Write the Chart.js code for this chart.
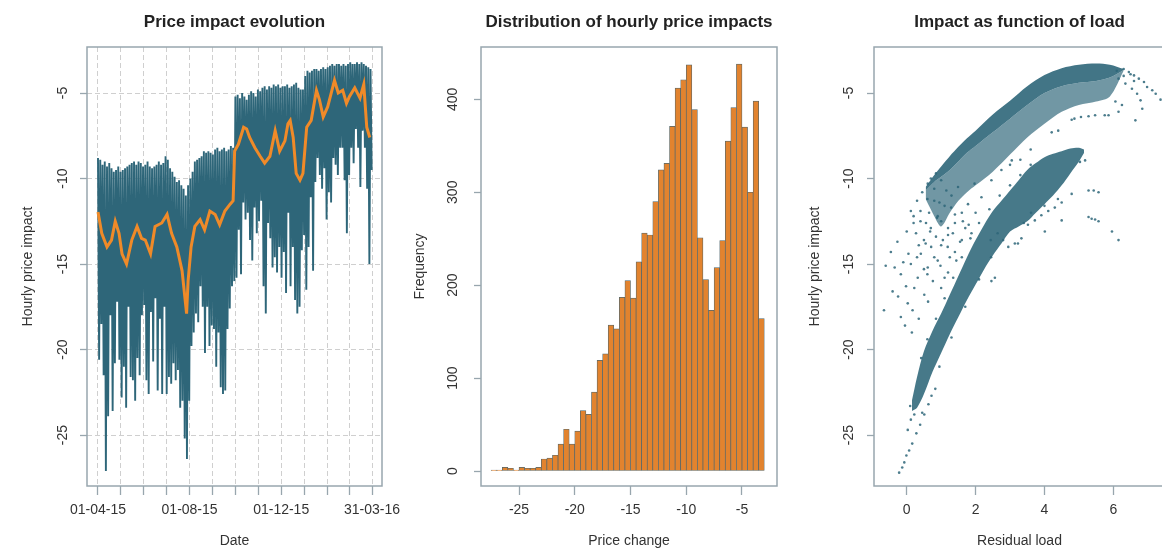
<!DOCTYPE html>
<html>
<head>
<meta charset="utf-8">
<script src="https://cdn.jsdelivr.net/npm/chart.js@4.4.1/dist/chart.umd.min.js"></script>
<style>
  html, body { margin: 0; padding: 0; background: #fff; width: 1162px; height: 552px; overflow: hidden; }
  canvas { position: absolute; top: 0; }
</style>
</head>
<body>
<canvas id="evo" width="420" height="552" style="left:0px"></canvas>
<canvas id="hist" width="420" height="552" style="left:390px"></canvas>
<canvas id="load" width="380" height="552" style="left:790px"></canvas>
<script>
// ---- panel 1: hourly impact, read as 3-day high/low envelope (day 0 = 01-04-15)
const binDays = 3
const evoHigh = [
  -8.8, -8.9, -9.2, -9.0, -9.3, -9.1, -9.4, -9.6, -9.5, -9.3,
  -9.6, -9.5, -9.4, -9.3, -9.2, -9.1, -9.0, -9.2, -9.0, -9.1,
  -9.3, -9.2, -9.0, -9.3, -9.4, -9.3, -9.2, -9.0, -9.2, -9.1,
  -8.7, -8.9, -9.4, -9.6, -9.9, -10.2, -10.1, -10.4, -10.6, -11.0,
  -10.4, -10.0, -9.6, -9.0, -8.9, -8.8, -8.7, -8.4, -8.5, -8.4,
  -8.5, -8.6, -8.3, -8.2, -8.4, -8.3, -8.2, -8.4, -8.3, -8.1,
  -8.2, -5.2, -5.1, -5.3, -5.0, -5.2, -5.4, -5.1, -4.9, -5.0,
  -5.2, -4.8, -4.9, -4.7, -4.6, -4.8, -4.6, -4.7, -4.5, -4.6,
  -4.5, -4.7, -4.6, -4.6, -4.5, -4.7, -4.6, -4.5, -4.4, -4.7,
  -4.8, -4.8, -4.0, -3.7, -3.8, -3.7, -3.6, -3.6, -3.7, -3.6,
  -3.5, -3.6, -3.5, -3.4, -3.3, -3.4, -3.3, -3.3, -3.4, -3.3,
  -3.4, -3.3, -3.2, -3.3, -3.3, -3.2, -3.3, -3.2, -3.3, -3.4,
  -3.5, -3.6
]
const evoLow = [
  -20.6, -18.5, -21.5, -27.1, -23.9, -18.0, -23.6, -20.8, -17.2, -20.6,
  -22.8, -21.0, -23.4, -17.5, -21.6, -21.8, -23.0, -20.5, -21.5, -18.0,
  -17.4, -21.8, -22.6, -17.8, -20.7, -17.0, -22.4, -18.2, -22.6, -17.5,
  -22.6, -21.6, -22.0, -20.8, -21.8, -21.2, -23.4, -23.0, -25.2, -26.4,
  -23.0, -19.8, -19.0, -17.9, -18.4, -16.3, -17.5, -20.2, -17.5, -19.8,
  -18.6, -18.8, -21.0, -19.0, -22.2, -22.6, -22.4, -18.8, -17.6, -16.3,
  -16.0, -15.8, -13.0, -15.6, -11.4, -12.4, -12.0, -13.6, -14.8, -11.7,
  -13.2, -12.5, -11.3, -16.3, -17.9, -12.6, -13.5, -15.2, -14.6, -15.5,
  -14.0, -15.8, -14.3, -16.7, -12.0, -16.3, -14.0, -17.1, -17.9, -17.5,
  -14.2, -13.3, -16.5, -14.0, -11.1, -15.4, -10.2, -8.8, -9.8, -10.6,
  -9.4, -12.4, -10.8, -11.4, -8.8, -9.2, -9.8, -8.2, -8.2, -10.1,
  -13.2, -9.8, -8.2, -9.1, -7.1, -8.2, -10.5, -7.2, -8.2, -10.6,
  -15.0, -9.5
]
// moving average (orange)
const maDays = [0, 5, 12, 18, 23, 28, 32, 38, 45, 52, 58, 63, 70, 76, 85, 92, 98, 105, 112, 118,
  120, 124, 129, 136, 142, 149, 156, 162, 169, 176, 180, 182, 187, 194, 198, 202, 209, 216, 222, 229,
  236, 242, 249, 253, 256, 260, 264, 269, 273, 278, 284, 291, 295, 300, 306, 315, 320, 326, 331, 335,
  342, 349, 354, 358, 362]
const maValues = [-11.96, -13.2, -14.0, -13.6, -12.5, -13.2, -14.4, -15.0, -13.6, -12.8, -13.5, -13.6, -14.4, -12.8, -12.6, -12.1, -13.2, -14.0, -15.4, -17.9,
  -16.0, -14.0, -12.8, -12.4, -13.0, -11.9, -12.1, -12.7, -11.9, -11.5, -11.3, -8.4, -8.0, -7.0, -7.1, -7.6, -8.2, -8.7, -9.1, -8.7,
  -7.2, -8.4, -7.8, -6.8, -6.6, -7.6, -9.7, -10.1, -9.7, -7.0, -6.6, -4.84, -5.4, -6.4, -5.8, -4.26, -5.0, -4.84, -5.6, -5.2,
  -4.7, -5.3, -4.5, -7.0, -7.6]
const monthTickDays = [0, 30, 61, 91, 122, 153, 183, 214, 244, 275, 306, 335, 365]
const dateTickDays = [0, 122, 244, 365]
const dateTickLabels = ['01-04-15', '01-08-15', '01-12-15', '31-03-16']
const impactTicks = [-25, -20, -15, -10, -5]

// ---- panel 2: histogram, bins of 0.5 starting at -27.5
const histStart = -27.5
const histWidth = 0.5
const histCounts = [1, 1, 4, 3, 1, 4, 3, 3, 4, 13,
  14, 17, 29, 45, 29, 43, 65, 61, 85, 119,
  126, 157, 153, 187, 205, 186, 225, 256, 254, 290,
  324, 331, 371, 412, 421, 437, 389, 251, 206, 173,
  219, 248, 355, 391, 438, 370, 300, 398, 164]
const histXTicks = [-25, -20, -15, -10, -5]
const histYTicks = [0, 100, 200, 300, 400]

// ---- panel 3: impact vs residual load, dense bands read as outlines + loose points
const lowBandX   = [0.15, 0.3, 0.5, 0.75, 1.0, 1.25, 1.5, 1.75, 2.0, 2.25, 2.5, 2.75, 3.0, 3.25, 3.5, 3.75, 4.0, 4.25, 4.5, 4.75, 5.0, 5.15]
const lowBandTop = [-23.0, -21.6, -20.1, -18.9, -17.9, -16.8, -15.7, -14.6, -13.6, -12.7, -11.9, -11.3, -10.7, -10.1, -9.5, -9.1, -8.75, -8.55, -8.4, -8.25, -8.2, -8.3]
const lowBandBot = [-23.6, -23.4, -22.6, -21.3, -20.2, -19.1, -18.1, -17.1, -16.2, -15.3, -14.5, -13.8, -13.1, -12.8, -12.5, -12.0, -11.5, -11.0, -10.4, -9.7, -9.0, -8.5]
const upBandX   = [0.55, 0.8, 1.0, 1.25, 1.5, 1.75, 2.0, 2.5, 3.0, 3.5, 4.0, 4.5, 5.0, 5.5, 5.9, 6.3]
const upBandTop = [-10.5, -9.8, -9.3, -8.7, -8.15, -7.65, -7.2, -6.25, -5.45, -4.6, -3.95, -3.55, -3.35, -3.28, -3.35, -3.6]
const upBandMid = [-10.7, -10.2, -9.9, -9.5, -9.0, -8.5, -8.1, -7.3, -6.5, -5.7, -5.0, -4.6, -4.4, -4.3, -4.1, -3.65]
const upBandBot = [-11.2, -12.2, -12.8, -12.0, -11.3, -10.8, -10.4, -9.6, -8.6, -7.6, -6.8, -6.1, -5.7, -5.5, -5.2, -3.7]
const loosePoints = [
  [-0.66, -17.7], [-0.61, -15.1], [-0.46, -14.3], [-0.41, -16.6], [-0.27, -13.7], [-0.17, -15.6], [-0.17, -18.1],
  [-0.02, -16.3], [0.03, -17.3], [0.12, -11.9], [0.12, -15.0], [0.17, -17.7], [0.27, -13.2], [0.32, -15.8],
  [0.41, -14.4], [0.51, -16.8], [0.56, -12.6], [0.61, -15.2], [0.71, -14.0], [0.76, -16.0], [0.8, -11.3],
  [0.85, -13.4], [0.9, -14.8], [1.0, -12.5], [1.1, -15.8], [1.15, -10.7], [1.19, -14.0], [1.29, -11.7],
  [1.34, -13.2], [1.44, -14.8], [1.49, -10.5], [1.63, -12.5], [1.78, -11.5], [1.88, -13.2], [1.97, -10.3],
  [2.17, -11.1], [2.46, -10.1], [0.3, -11.3], [0.45, -10.8], [0.61, -10.3], [0.7, -10.0], [0.85, -9.7],
  [0.4, -12.5], [0.65, -12.0], [0.95, -11.4], [1.2, -12.9], [0.55, -13.8], [1.05, -13.6],
  [0.2, -12.2], [0.35, -13.9], [0.5, -15.3], [0.68, -13.1], [0.88, -12.3], [1.25, -14.6], [1.4, -12.1],
  [1.55, -13.7], [1.7, -12.9], [0.05, -14.4], [-0.1, -14.9], [0.22, -16.4], [0.62, -17.2], [0.98, -15.1],
  [0.2, -12.6], [0.4, -11.9], [0.6, -11.2], [0.8, -10.6], [1.0, -10.1],
  [0.3, -14.6], [0.5, -13.6], [0.7, -12.9], [0.9, -12.2], [1.1, -11.6], [1.3, -11.0],
  [0.6, -15.6], [0.8, -14.6], [1.0, -13.9], [1.2, -13.3], [1.4, -12.6], [1.6, -12.0],
  [1.0, -16.4], [1.2, -15.5], [1.4, -14.3], [1.6, -13.6], [1.8, -12.7], [2.0, -12.0],
  [-0.35, -15.2], [-0.25, -16.9], [0.0, -13.1], [-0.05, -18.6], [0.15, -19.0], [0.35, -18.2],
  [-0.22, -27.2], [-0.13, -26.9], [-0.07, -26.6], [-0.01, -26.2], [0.07, -25.9], [0.16, -25.5], [0.28, -24.9],
  [0.39, -24.4], [0.51, -23.8], [0.63, -23.2], [0.72, -22.7], [0.03, -24.7], [0.12, -24.1], [0.22, -23.8],
  [0.1, -23.3], [0.45, -23.7], [0.83, -22.3],
  [0.42, -20.5], [0.6, -19.4], [0.85, -18.2], [1.1, -17.0], [1.35, -15.8], [1.6, -14.6], [1.85, -13.5],
  [2.1, -12.6], [2.4, -11.8], [2.7, -11.0], [3.0, -10.4], [3.3, -9.8], [3.6, -9.2],
  [0.95, -21.0], [1.3, -19.3], [1.7, -17.5], [2.1, -15.9], [2.45, -14.6], [2.8, -13.6], [3.4, -12.6],
  [2.95, -14.0], [3.14, -13.8], [2.56, -15.8], [2.46, -16.0], [2.64, -13.2], [2.44, -13.6], [3.23, -13.8],
  [3.33, -13.5], [3.52, -12.7], [3.72, -12.45], [3.91, -12.15], [4.11, -11.9], [4.3, -11.7], [4.5, -11.4],
  [4.79, -10.9], [4.5, -12.45], [4.01, -13.1], [5.28, -12.25], [5.37, -12.35], [5.47, -12.4], [5.57, -12.5],
  [5.96, -13.1], [6.15, -13.6], [5.28, -10.7], [5.43, -10.7], [5.57, -10.8], [5.18, -8.94], [5.03, -9.03],
  [3.61, -12.0], [4.0, -11.6], [4.39, -11.2],
  [4.21, -7.3], [4.4, -7.2], [4.87, -6.5], [5.06, -6.4], [5.75, -6.3], [4.79, -6.56], [5.28, -6.36],
  [5.47, -6.3], [5.86, -6.3], [6.15, -6.1], [6.64, -6.6], [6.06, -5.5], [6.25, -5.7], [3.0, -9.2],
  [3.3, -8.9], [3.6, -8.3], [2.75, -9.5], [3.05, -8.94],
  [6.45, -3.77], [6.6, -3.97], [6.74, -4.16], [6.89, -4.36], [6.98, -4.65], [7.13, -4.84], [7.23, -5.04],
  [7.37, -5.39], [6.15, -4.16], [6.35, -4.45], [6.54, -4.75], [6.69, -5.04], [6.79, -5.43], [6.84, -5.92],
  [6.3, -3.6], [6.5, -3.9], [6.3, -4.0], [6.1, -3.7], [6.6, -4.3]
]
const loadTicks = [0, 2, 4, 6]

// ---- styles
const TEAL = '#2E6679'
const ORANGE = '#F08A28'
const FRAME = '#98A6AE'
const TEXT = '#333333'
const FONT = "'Liberation Sans', Arial, sans-serif"
Chart.defaults.font.family = FONT
Chart.defaults.color = TEXT

const frameBox = {
  id: 'frameBox',
  afterDatasetsDraw(chart) {
    const { ctx, chartArea: a } = chart
    ctx.save()
    ctx.strokeStyle = FRAME
    ctx.lineWidth = 1.5
    ctx.strokeRect(a.left, a.top, a.right - a.left, a.bottom - a.top)
    ctx.restore()
  }
}

function titleOpts(text) {
  return {
    display: true, text, fullSize: false, color: '#222',
    font: { size: 17, weight: 'bold' },
    padding: { top: 11.8, bottom: 14.8 }
  }
}

function yAxis(width, title, ticks, min, max, onArea, labelPad, titlePad) {
  return {
    type: 'linear', min, max,
    afterBuildTicks: s => { s.ticks = ticks.map(v => ({ value: v })) },
    afterFit: s => { s.width = width },
    grid: { drawOnChartArea: onArea, color: '#CFCFCF', lineWidth: 1, tickLength: 7, tickColor: FRAME, tickWidth: 1.3 },
    border: { display: false, dash: [5, 3] },
    ticks: { minRotation: 90, maxRotation: 90, crossAlign: 'center', padding: labelPad, autoSkip: false, font: { size: 14 }, color: TEXT },
    title: { display: true, text: title, font: { size: 14 }, color: TEXT, padding: { top: titlePad, bottom: 0 } }
  }
}

function xAxis(title, ticks, min, max, onArea, labeller) {
  return {
    type: 'linear', min, max, offset: false,
    afterBuildTicks: s => { s.ticks = ticks.map(v => ({ value: v })) },
    afterFit: s => { s.height = 66 },
    grid: { drawOnChartArea: onArea, color: '#CFCFCF', lineWidth: 1, tickLength: 9, tickColor: FRAME, tickWidth: 1.3, offset: false },
    border: { display: false, dash: [5, 3] },
    ticks: { autoSkip: false, maxRotation: 0, minRotation: 0, padding: 7, font: { size: 14 }, color: TEXT, callback: labeller },
    title: { display: true, text: title, font: { size: 14 }, color: TEXT, padding: { top: 0, bottom: 2.6 } }
  }
}

const baseOpts = {
  responsive: false, animation: false, devicePixelRatio: 1,
  events: []
}

// ---- panel 1
const envelope = []
evoHigh.forEach((hi, i) => {
  envelope.push({ x: i * binDays, y: hi })
  envelope.push({ x: i * binDays + binDays / 2, y: evoLow[i] })
})
const movingAvg = maDays.map((d, i) => ({ x: d, y: maValues[i] }))

new Chart(document.getElementById('evo'), {
  type: 'scatter',
  data: {
    datasets: [
      { type: 'line', data: movingAvg, borderColor: ORANGE, borderWidth: 3, pointRadius: 0, tension: 0, fill: false },
      { type: 'line', data: envelope, borderColor: TEAL, borderWidth: 1.9, pointRadius: 0, tension: 0, fill: false }
    ]
  },
  options: {
    ...baseOpts,
    layout: { padding: { left: 0, right: 38, top: 0, bottom: 0 } },
    plugins: { legend: { display: false }, tooltip: { enabled: false }, title: titleOpts('Price impact evolution') },
    scales: {
      x: xAxis('Date', monthTickDays, -14.65, 378.3, true, v => {
        const k = dateTickDays.indexOf(v)
        return k >= 0 ? dateTickLabels[k] : ''
      }),
      y: yAxis(87, 'Hourly price impact', impactTicks, -27.98, -2.31, true, 7, 19.6)
    }
  },
  plugins: [frameBox]
})

// ---- panel 2
const histData = histCounts.map((c, i) => ({ x: histStart + histWidth * (i + 0.5), y: c }))
new Chart(document.getElementById('hist'), {
  type: 'bar',
  data: {
    datasets: [{
      data: histData, backgroundColor: '#E2832E', borderColor: '#4F666D', borderWidth: 0.7,
      borderSkipped: false, barPercentage: 1, categoryPercentage: 1
    }]
  },
  options: {
    ...baseOpts,
    layout: { padding: { left: 0, right: 33, top: 0, bottom: 0 } },
    plugins: { legend: { display: false }, tooltip: { enabled: false }, title: titleOpts('Distribution of hourly price impacts') },
    scales: {
      x: xAxis('Price change', histXTicks, -28.41, -1.86, false, v => String(v)),
      y: yAxis(91, 'Frequency', histYTicks, -16.1, 456.3, false, 9, 21.6)
    }
  },
  plugins: [frameBox]
})

// ---- panel 3
const toXY = (xs, ys) => xs.map((x, i) => ({ x, y: ys[i] }))
const bandLine = (data, fill, color) => ({
  type: 'line', data, borderColor: 'rgba(0,0,0,0)', borderWidth: 0, pointRadius: 0, tension: 0.3,
  fill, backgroundColor: color
})
new Chart(document.getElementById('load'), {
  type: 'scatter',
  data: {
    datasets: [
      { data: loosePoints.map(p => ({ x: p[0], y: p[1] })), pointRadius: 1.3, pointBorderWidth: 0, pointBackgroundColor: 'rgba(46,102,121,0.85)' },
      bandLine(toXY(lowBandX, lowBandTop), false, 'rgba(0,0,0,0)'),
      bandLine(toXY(lowBandX, lowBandBot), 1, 'rgba(46,102,121,0.88)'),
      bandLine(toXY(upBandX, upBandTop), false, 'rgba(0,0,0,0)'),
      bandLine(toXY(upBandX, upBandMid), 3, 'rgba(46,102,121,0.9)'),
      bandLine(toXY(upBandX, upBandBot), 4, 'rgba(46,102,121,0.68)')
    ]
  },
  options: {
    ...baseOpts,
    layout: { padding: { left: 0, right: 5, top: 0, bottom: 0 } },
    plugins: { legend: { display: false }, tooltip: { enabled: false }, title: titleOpts('Impact as function of load') },
    scales: {
      x: xAxis('Residual load', loadTicks, -0.95, 7.5, false, v => String(v)),
      y: yAxis(84, 'Hourly price impact', impactTicks, -27.98, -2.31, false, 8, 16.6)
    }
  },
  plugins: [frameBox]
})
</script>
</body>
</html>
